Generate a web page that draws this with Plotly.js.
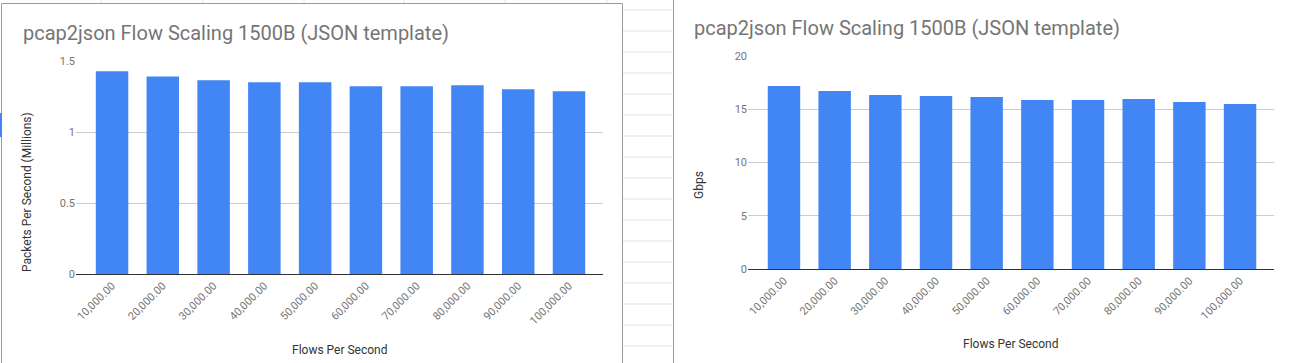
<!DOCTYPE html>
<html>
<head>
<meta charset="utf-8">
<script src="https://cdn.plot.ly/plotly-3.0.1.min.js"></script>
<style>
  html, body { margin: 0; padding: 0; background: #ffffff; }
  #chart { width: 1290px; height: 363px; }
</style>
</head>
<body>
<div id="chart"></div>
<script>
// ---- data ----
const flowsPerSecond = ["10,000.00", "20,000.00", "30,000.00", "40,000.00", "50,000.00",
                        "60,000.00", "70,000.00", "80,000.00", "90,000.00", "100,000.00"];
const packetsPerSecondMillions = [1.427, 1.391, 1.364, 1.350, 1.350, 1.322, 1.322, 1.329, 1.301, 1.287];
const gbps = [17.16, 16.69, 16.31, 16.22, 16.13, 15.84, 15.84, 15.94, 15.66, 15.47];

const chartTitle = "pcap2json Flow Scaling 1500B (JSON template)";
const xTitle = "Flows Per Second";
const yTitleLeft = "Packets Per Second (Millions)";
const yTitleRight = "Gbps";

// ---- layout helpers (pixel -> paper) ----
const W = 1290, H = 363;
const px = x => x / W;
const py = y => (H - y) / H;

const FONT = "Roboto, 'Open Sans', Arial, sans-serif";
const BLUE = "#4285f4";
const GRID = "#cccccc";
const TICK = "#757575";
const AXT = "#333333";

const traces = [
  { type: "bar", x: flowsPerSecond, y: packetsPerSecondMillions, xaxis: "x", yaxis: "y",
    marker: { color: BLUE }, hoverinfo: "x+y" },
  { type: "bar", x: flowsPerSecond, y: gbps, xaxis: "x2", yaxis: "y2",
    marker: { color: BLUE }, hoverinfo: "x+y" }
];

const xCommon = {
  type: "category", range: [-0.71, 9.67], tickangle: -45,
  showgrid: false, zeroline: false, showline: true, linecolor: AXT, linewidth: 1,
  ticks: "", tickfont: { family: FONT, size: 11, color: TICK }, fixedrange: true
};
const yCommon = {
  showgrid: true, gridcolor: GRID, gridwidth: 1, zeroline: false, showline: false,
  ticks: "", tickfont: { family: FONT, size: 11, color: TICK }, fixedrange: true
};

// spreadsheet decoration shapes
const shapes = [];
const sheetLine = "#e2e2e2";
[101, 203, 304, 404, 505, 607].forEach(x => {
  shapes.push({ type: "line", xref: "paper", yref: "paper", x0: px(x), x1: px(x), y0: py(0), y1: py(3),
                line: { color: sheetLine, width: 1 } });
});
for (let y = 10; y < H; y += 21) {
  shapes.push({ type: "line", xref: "paper", yref: "paper", x0: px(623), x1: px(672), y0: py(y), y1: py(y),
                line: { color: sheetLine, width: 1 } });
}
// left chart frame
const frame = "#9a9a9a";
shapes.push({ type: "line", xref: "paper", yref: "paper", x0: px(1.5), x1: px(622.5), y0: py(3.5), y1: py(3.5), line: { color: frame, width: 1 } });
shapes.push({ type: "line", xref: "paper", yref: "paper", x0: px(1.5), x1: px(1.5), y0: py(3.5), y1: py(H), line: { color: frame, width: 1 } });
shapes.push({ type: "line", xref: "paper", yref: "paper", x0: px(622.5), x1: px(622.5), y0: py(3.5), y1: py(H), line: { color: frame, width: 1 } });
// right chart frame (left edge)
shapes.push({ type: "line", xref: "paper", yref: "paper", x0: px(673.5), x1: px(673.5), y0: py(0), y1: py(H), line: { color: frame, width: 1 } });
// selection handle on left edge
shapes.push({ type: "rect", xref: "paper", yref: "paper", x0: px(0), x1: px(2), y0: py(137), y1: py(113),
              line: { width: 0 }, fillcolor: BLUE });

const annotations = [
  { text: chartTitle, xref: "paper", yref: "paper", x: px(21), y: py(33.5), xanchor: "left", yanchor: "middle",
    showarrow: false, font: { family: FONT, size: 20, color: TICK } },
  { text: chartTitle, xref: "paper", yref: "paper", x: px(692), y: py(28.5), xanchor: "left", yanchor: "middle",
    showarrow: false, font: { family: FONT, size: 20, color: TICK } },
  { text: yTitleLeft, xref: "paper", yref: "paper", x: px(27), y: py(192), xanchor: "center", yanchor: "middle",
    textangle: -90, showarrow: false, font: { family: FONT, size: 12, color: AXT } },
  { text: yTitleRight, xref: "paper", yref: "paper", x: px(699), y: py(185), xanchor: "center", yanchor: "middle",
    textangle: -90, showarrow: false, font: { family: FONT, size: 12, color: AXT } },
  { text: xTitle, xref: "paper", yref: "paper", x: px(339.5), y: py(350), xanchor: "center", yanchor: "middle",
    showarrow: false, font: { family: FONT, size: 12, color: AXT } },
  { text: xTitle, xref: "paper", yref: "paper", x: px(1011), y: py(344), xanchor: "center", yanchor: "middle",
    showarrow: false, font: { family: FONT, size: 12, color: AXT } }
];

const layout = {
  width: W, height: H, autosize: false,
  margin: { l: 0, r: 0, t: 0, b: 0, pad: 0 },
  paper_bgcolor: "#ffffff", plot_bgcolor: "rgba(0,0,0,0)",
  showlegend: false, bargap: 0.36,
  font: { family: FONT, color: TICK },
  xaxis: Object.assign({}, xCommon, { domain: [px(76), px(603)], anchor: "y" }),
  yaxis: Object.assign({}, yCommon, { domain: [py(274), py(61)], range: [0, 1.5], dtick: 0.5, anchor: "x" }),
  xaxis2: Object.assign({}, xCommon, { domain: [px(748), px(1274)], anchor: "y2" }),
  yaxis2: Object.assign({}, yCommon, { domain: [py(269), py(55.7)], range: [0, 20], dtick: 5, anchor: "x2" }),
  shapes: shapes,
  annotations: annotations
};

Plotly.newPlot("chart", traces, layout, { displayModeBar: false, staticPlot: true });
</script>
</body>
</html>
